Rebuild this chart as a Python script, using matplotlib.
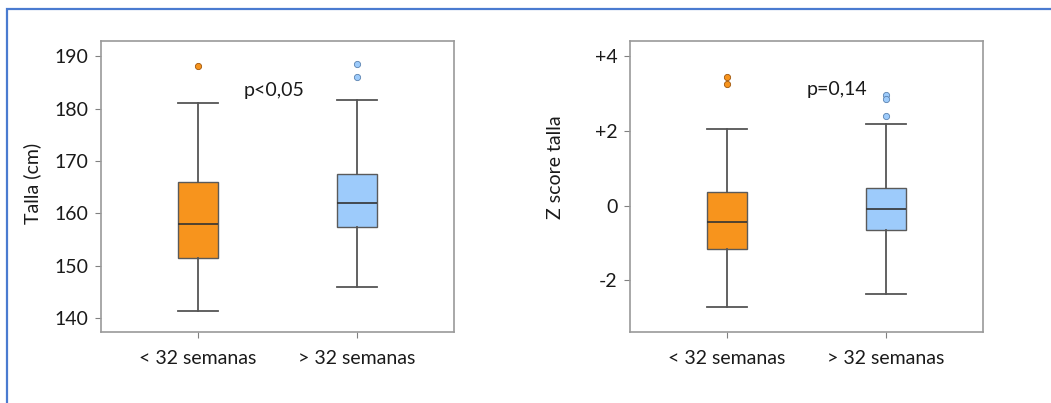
import matplotlib
matplotlib.use("Agg")
import matplotlib.pyplot as plt
from matplotlib.patches import Rectangle

plt.rcParams['font.family'] = ['Lato', 'DejaVu Sans']

groups = ["< 32 semanas", "> 32 semanas"]
colors = ["#F7941D", "#9DCBFB"]
outlier_edges = ["#A0560A", "#5A82B0"]

# Talla (cm): whisker low, Q1, median, Q3, whisker high, outliers
talla_stats = [
    dict(whislo=141.3, q1=151.5, med=158.0, q3=166.0, whishi=181.0, fliers=[188.1]),
    dict(whislo=145.9, q1=157.4, med=162.0, q3=167.5, whishi=181.6, fliers=[188.5, 186.0]),
]
talla_ticks = [140, 150, 160, 170, 180, 190]
talla_ticklabels = ["140", "150", "160", "170", "180", "190"]

# Z score talla
z_stats = [
    dict(whislo=-2.71, q1=-1.17, med=-0.44, q3=0.36, whishi=2.05, fliers=[3.43, 3.25]),
    dict(whislo=-2.37, q1=-0.65, med=-0.10, q3=0.48, whishi=2.18, fliers=[2.96, 2.85, 2.40]),
]
z_ticks = [-2, 0, 2, 4]
z_ticklabels = ["-2", "0", "+2", "+4"]

W, H = 1051, 403
fig = plt.figure(figsize=(W / 100, H / 100), dpi=100)

# blue frame around the panel (left and top edges visible)
fig.add_artist(Rectangle((7 / W, -0.2), 1.2, 1 - 9 / H + 0.2, transform=fig.transFigure,
                         fill=False, edgecolor="#4A7BD0", linewidth=1.6))

TEXT = "#1a1a1a"
FS = 14


def draw_panel(left_px, stats, ticks, ticklabels, ylim, ylabel, ylabel_xy, ptext, pxy):
    ax = fig.add_axes([left_px / W, 1 - 332 / H, 353 / W, 291 / H])
    for i, s in enumerate(stats):
        ax.bxp([dict(s)], positions=[i + 1], widths=0.25, patch_artist=True,
               showfliers=True,
               boxprops=dict(facecolor=colors[i], edgecolor="#5a5a5a", linewidth=1.0),
               medianprops=dict(color="#333333", linewidth=1.2),
               whiskerprops=dict(color="#555555", linewidth=1.3),
               capprops=dict(color="#555555", linewidth=1.3),
               capwidths=0.25,
               flierprops=dict(marker="o", markersize=4.5, markerfacecolor=colors[i],
                               markeredgecolor=outlier_edges[i], markeredgewidth=0.6))
    ax.set_xlim(0.389, 2.611)
    ax.set_ylim(*ylim)
    ax.set_xticks([1, 2])
    ax.set_xticklabels(groups, fontsize=FS, color=TEXT)
    ax.set_yticks(ticks)
    ax.set_yticklabels(ticklabels, fontsize=FS, color=TEXT)
    ax.tick_params(axis="both", length=4, width=0.8, color="#808080", pad=5)
    ax.tick_params(axis="x", pad=9)
    for sp in ax.spines.values():
        sp.set_color("#9a9a9a")
        sp.set_linewidth(1.2)
    ax.set_ylabel(ylabel, fontsize=FS, color=TEXT)
    ax.yaxis.set_label_coords(*ylabel_xy)
    ax.text(pxy[0], pxy[1], ptext, fontsize=FS, ha="center", va="center", color=TEXT)
    return ax


draw_panel(101, talla_stats, talla_ticks, talla_ticklabels, (137.3, 192.9),
           "Talla (cm)", (-0.17, 0.51), "p<0,05", (1.48, 183.5))
draw_panel(630, z_stats, z_ticks, z_ticklabels, (-3.38, 4.4),
           "Z score talla", (-0.187, 0.567), "p=0,14", (1.69, 3.09))

fig.savefig("out.png", dpi=100)
